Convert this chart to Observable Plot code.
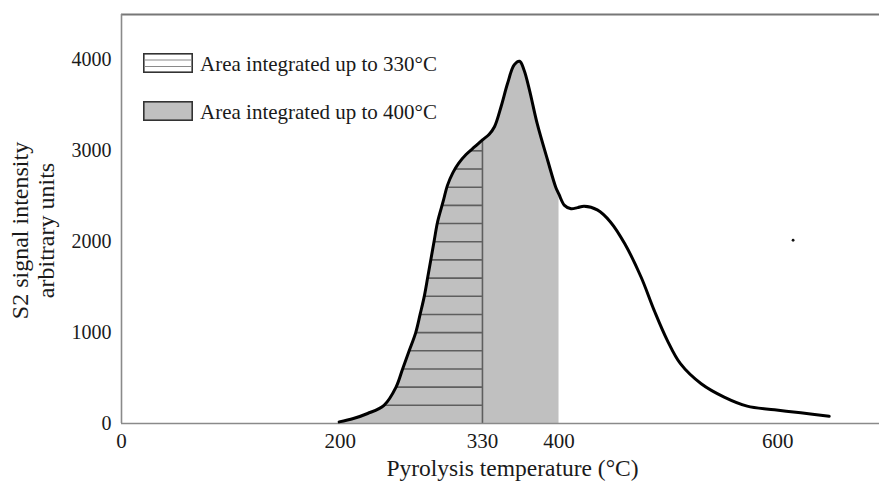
<!DOCTYPE html>
<html><head><meta charset="utf-8">
<script src="https://cdn.jsdelivr.net/npm/d3@7"></script>
<script src="https://cdn.jsdelivr.net/npm/@observablehq/plot@0.6"></script>
<style>
body{margin:0;background:#fff;}
#wrap{position:relative;width:879px;height:482px;font-family:"Liberation Serif","Times New Roman",serif;}
.leg{position:absolute;left:143px;display:flex;align-items:center;font-size:21px;line-height:20px;color:#1a1a1a;white-space:nowrap;}
.leg svg{margin-right:7px;display:block;}
.leg span{position:relative;top:1px;}
</style></head><body><div id="wrap"></div>
<script>
// Pyrolysis temperature (°C) and S2 signal (arbitrary units)
const temperature = [199, 212, 225, 240, 251, 257, 263, 269, 273, 277, 280, 283, 286, 289, 294, 298, 303, 308, 315, 323, 330, 336, 341, 347, 353, 359, 364, 368, 373, 380, 390, 397, 400, 405, 411, 417, 423, 435, 447, 460, 475, 487, 499, 511, 530, 551, 572, 597, 621, 647];
const signal      = [18, 55, 110, 200, 400, 600, 800, 1000, 1200, 1410, 1612, 1815, 2020, 2220, 2440, 2620, 2760, 2860, 2960, 3045, 3120, 3180, 3265, 3485, 3743, 3945, 3985, 3890, 3669, 3302, 2880, 2600, 2520, 2400, 2362, 2375, 2390, 2350, 2218, 1980, 1612, 1245, 915, 658, 437, 290, 191, 151, 118, 80];
const strayT = [614];
const strayV = [2016];
const xTicks = [0, 200, 330, 400, 600];
const yTicks = [0, 1000, 2000, 3000, 4000];
const limits = [330, 400];
const hatchLevels = [200, 400, 600, 800, 1000, 1200, 1400, 1600, 1800, 2000, 2200, 2400, 2600, 2800, 3000];
const legendLabels = ["Area integrated up to 330°C", "Area integrated up to 400°C"];
const xLabel = "Pyrolysis temperature (°C)";
const yLabel = ["S2 signal intensity", "arbitrary units"];

const data = temperature.map((T, i) => ({T, V: signal[i]}));
const stray = strayT.map((T, i) => ({T, V: strayV[i]}));

function crossingT(level) {
  for (let i = 1; i < data.length; i++) {
    const a = data[i - 1], b = data[i];
    if (a.V <= level && b.V >= level) return a.T + (level - a.V) / (b.V - a.V) * (b.T - a.T);
  }
  return null;
}
function valueAt(t) {
  for (let i = 1; i < data.length; i++) {
    const a = data[i - 1], b = data[i];
    if (a.T <= t && b.T >= t) return a.V + (t - a.T) / (b.T - a.T) * (b.V - a.V);
  }
  return 0;
}

const serif = "'Liberation Serif','Times New Roman',serif";
const ink = "#1a1a1a";
const frameColor = "#8a8a8a";
const chart = Plot.plot({
  width: 879, height: 482,
  marginLeft: 121, marginRight: 0, marginTop: 14, marginBottom: 59,
  style: {fontFamily: serif, fontSize: "20px", color: ink, background: "white", overflow: "visible"},
  x: {domain: [0, 693], label: null},
  y: {domain: [0, 4500], label: null},
  marks: [
    Plot.areaY(data, {x: "T", y: "V", filter: d => d.T <= limits[1], fill: "#c0c0c0", curve: "catmull-rom"}),
    Plot.ruleY(hatchLevels, {y: d => d, x1: d => crossingT(d), x2: limits[0], stroke: "#5e5e5e", strokeWidth: 1.6}),
    Plot.ruleX([limits[0]], {x: d => d, y1: 0, y2: d => valueAt(d), stroke: "#5e5e5e", strokeWidth: 1.6}),
    Plot.ruleY([0], {stroke: frameColor, strokeWidth: 1.6}),
    Plot.ruleY([4500], {stroke: "#777", strokeWidth: 2}),
    Plot.ruleX([0], {stroke: frameColor, strokeWidth: 1.6}),
    Plot.line(data, {x: "T", y: "V", stroke: "#000", strokeWidth: 3, curve: "catmull-rom"}),
    Plot.dot(stray, {x: "T", y: "V", r: 1.4, fill: "#111", stroke: null}),
    Plot.axisX({ticks: xTicks, tickSize: 0, tickPadding: 10, tickFormat: d => String(d), fontSize: 21, label: null, fill: ink}),
    Plot.axisY({ticks: yTicks, tickSize: 0, tickPadding: 10, tickFormat: d => String(d), fontSize: 20, label: null, fill: ink}),
    Plot.text([xLabel], {frameAnchor: "bottom", lineAnchor: "middle", textAnchor: "middle", dx: 12, dy: 44.5, fontSize: 23.5, fill: ink}),
    Plot.text([yLabel.join("\n")], {frameAnchor: "left", lineAnchor: "middle", textAnchor: "middle", rotate: -90, dx: -89, dy: 11.5, fontSize: 24, lineHeight: 1.1, fill: ink})
  ]
});
const wrap = document.getElementById("wrap");
wrap.appendChild(chart);

// legend overlay inside the plot area
const swatches = [
  `<svg width="50" height="20"><rect x="0.8" y="0.8" width="48.4" height="18.4" fill="#fff" stroke="#333" stroke-width="1.6"/><line x1="1" x2="49" y1="7" y2="7" stroke="#8a8a8a" stroke-width="1.2"/><line x1="1" x2="49" y1="13.5" y2="13.5" stroke="#8a8a8a" stroke-width="1.2"/></svg>`,
  `<svg width="50" height="20"><rect x="0.8" y="0.8" width="48.4" height="18.4" fill="#c0c0c0" stroke="#333" stroke-width="1.6"/></svg>`
];
const tops = [53, 101];
legendLabels.forEach((lab, i) => {
  const d = document.createElement("div");
  d.className = "leg";
  d.style.top = tops[i] + "px";
  d.innerHTML = swatches[i] + `<span>${lab}</span>`;
  wrap.appendChild(d);
});
</script></body></html>
